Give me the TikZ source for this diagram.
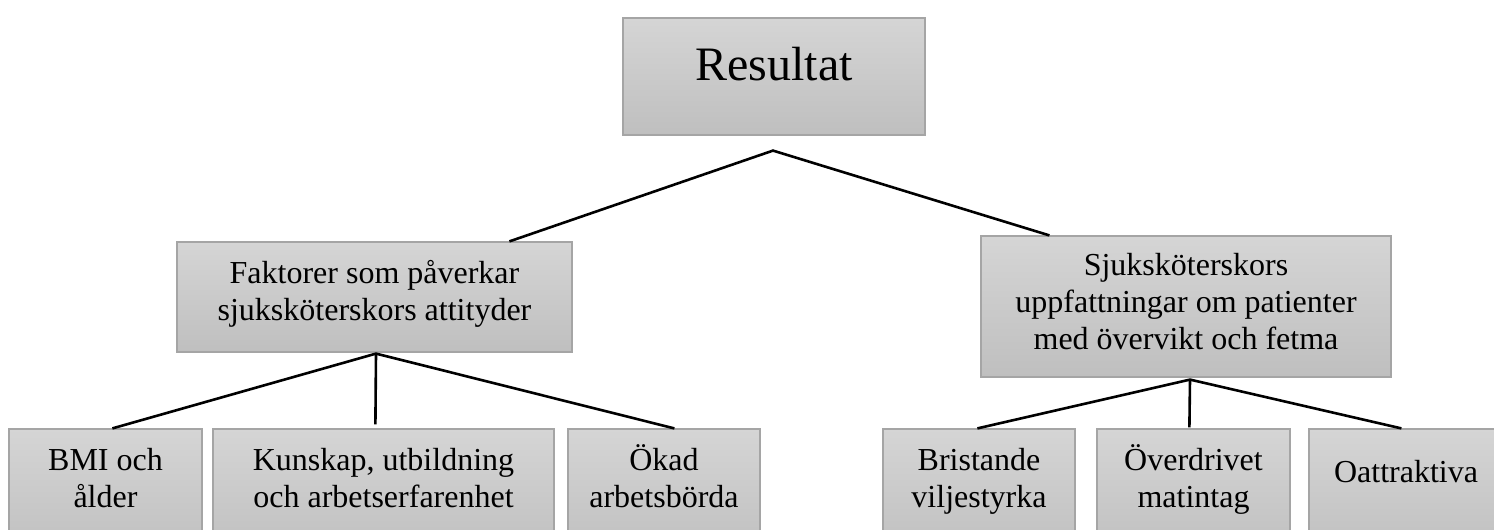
\documentclass[tikz,border=0pt]{standalone}
\usepackage{fontspec}
\setmainfont{Liberation Serif}
\usetikzlibrary{calc}
\definecolor{boxtop}{RGB}{213,213,213}
\definecolor{boxbot}{RGB}{191,191,191}
\definecolor{boxline}{RGB}{165,165,165}
\begin{document}
\begin{tikzpicture}[x=1pt,y=-1pt,
  box/.style={rectangle, draw=boxline, line width=1.2pt, top color=boxtop, bottom color=boxbot, inner sep=0pt},
  lbl/.style={font=\fontsize{32}{37}\selectfont, align=center, anchor=base, inner sep=0pt},
  conn/.style={line width=2.6pt, draw=black}]
\useasboundingbox (0,0) rectangle (1494,530);
% boxes
\node[box, minimum width=302pt, minimum height=117pt] (R) at (774,76.5) {};
\node[box, minimum width=395pt, minimum height=110pt] (F) at (374.5,297) {};
\node[box, minimum width=410pt, minimum height=141pt] (S) at (1186,306.5) {};
\node[box, minimum width=193pt, minimum height=130pt] (B1) at (105.5,494) {};
\node[box, minimum width=341pt, minimum height=130pt] (B2) at (383.5,494) {};
\node[box, minimum width=192pt, minimum height=130pt] (B3) at (664,494) {};
\node[box, minimum width=192pt, minimum height=130pt] (C1) at (979,494) {};
\node[box, minimum width=193pt, minimum height=130pt] (C2) at (1193.5,494) {};
\node[box, minimum width=194pt, minimum height=130pt] (C3) at (1406,494) {};
% texts (anchor base = baseline of the last line)
\node[lbl, font=\fontsize{48}{55}\selectfont] (tR) at (774,80) {Resultat};
\node[lbl] (tF) at (374.5,320) {Faktorer som påverkar\\sjuksköterskors attityder};
\node[lbl] (tS) at (1186,349) {Sjuksköterskors\\uppfattningar om patienter\\med övervikt och fetma};
\node[lbl] (t1) at (105.5,507) {BMI och\\ålder};
\node[lbl] (t2) at (383.5,507) {Kunskap, utbildning\\och arbetserfarenhet};
\node[lbl] (t3) at (664,507) {Ökad\\arbetsbörda};
\node[lbl] (t4) at (979,507) {Bristande\\viljestyrka};
\node[lbl] (t5) at (1193.5,507) {Överdrivet\\matintag};
\node[lbl] (t6) at (1406,482) {Oattraktiva};
% junctions and ends
\coordinate (Rj) at ($(R.south)+(-1,15)$);
\coordinate (Fe) at ($(F.north west)+(333,0)$);
\coordinate (Se) at ($(S.north west)+(69,0)$);
\coordinate (Fj) at ($(F.south)+(1.5,1)$);
\coordinate (B1e) at ($(B1.north west)+(104,0)$);
\coordinate (B2e) at ($(B2.north west)+(163,-4)$);
\coordinate (B3e) at ($(B3.north west)+(107,0)$);
\coordinate (Sj) at ($(S.south)+(4,2)$);
\coordinate (C1e) at ($(C1.north west)+(95,0)$);
\coordinate (C2e) at ($(C2.north west)+(93,-1)$);
\coordinate (C3e) at ($(C3.north west)+(93,0)$);
% connectors
\draw[conn] (Fe) -- (Rj) -- (Se);
\draw[conn] (B1e) -- (Fj) -- (B3e);
\draw[conn] (Fj) -- (B2e);
\draw[conn] (C1e) -- (Sj) -- (C3e);
\draw[conn] (Sj) -- (C2e);
\end{tikzpicture}
\end{document}
